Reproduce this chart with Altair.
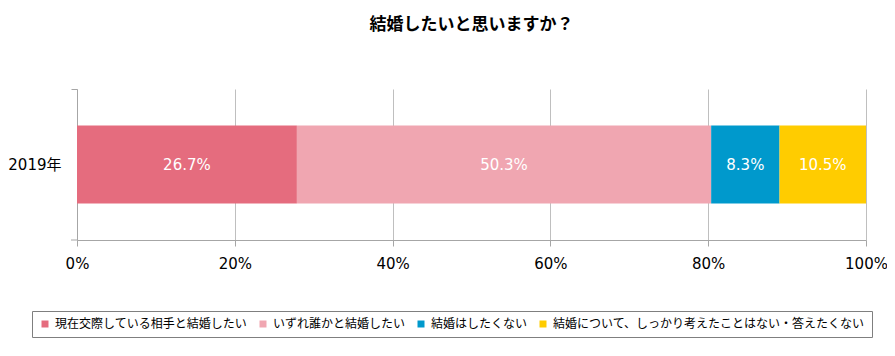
import altair as alt
import pandas as pd

categories = ["現在交際している相手と結婚したい", "いずれ誰かと結婚したい", "結婚はしたくない", "結婚について、しっかり考えたことはない・答えたくない"]
values = [26.7, 50.3, 8.3, 10.5]
colors = ["#E56C7E", "#F0A6B1", "#0099CC", "#FFCC00"]
year = "2019年"
ticks = [0, 0.2, 0.4, 0.6, 0.8, 1.0]

df = pd.DataFrame({
    "cat": categories,
    "value": values,
    "idx": list(range(len(categories))),
    "year": [year] * len(categories),
    "label": [f"{v:.1f}%" for v in values],
})

font_num = "DejaVu Sans"
font_jp = "Noto Sans CJK JP"
font_mix = "DejaVu Sans, Noto Sans CJK JP"

base = alt.Chart(df).transform_stack(
    stack="value", groupby=["year"], as_=["v0", "v1"], offset="normalize",
    sort=[alt.SortField("idx", order="ascending")]
).transform_calculate(mid="(datum.v0 + datum.v1) / 2")

y_enc = alt.Y("year:N", title=None,
              scale=alt.Scale(paddingInner=0, paddingOuter=0),
              axis=alt.Axis(labelFont=font_mix, labelFontSize=15, labelColor="#000000",
                            labelPadding=10, domainColor="#A6A6A6", tickColor="#A6A6A6",
                            tickSize=6, bandPosition=0, grid=False))

bars = base.mark_bar(size=78).encode(
    x=alt.X("v0:Q", title=None, scale=alt.Scale(domain=[0, 1], nice=False),
            axis=alt.Axis(values=ticks, format=".0%", labelFont=font_num, labelFontSize=15,
                          labelColor="#000000", labelPadding=10, domainColor="#A6A6A6",
                          tickColor="#A6A6A6", tickSize=6, gridColor="#BFBFBF",
                          labelFlush=False)),
    x2="v1:Q",
    y=y_enc,
    color=alt.Color("cat:N", title=None,
                    scale=alt.Scale(domain=categories, range=colors),
                    legend=alt.Legend(orient="none", legendX=-45, legendY=222,
                                      direction="horizontal", columns=4,
                                      symbolType="square", symbolSize=49,
                                      symbolStrokeWidth=0,
                                      labelFont=font_jp, labelFontSize=12,
                                      labelColor="#000000", labelLimit=400,
                                      columnPadding=9, padding=7,
                                      strokeColor="#7F7F7F", labelOffset=4)),
    order=alt.Order("idx:Q"),
)

text = base.mark_text(color="white", font=font_num, fontSize=15).encode(
    x=alt.X("mid:Q"),
    y=alt.Y("year:N"),
    text="label:N",
)

corner = alt.Chart(df.head(1)).mark_rule(color="#A6A6A6").encode(
    x=alt.value(-6), x2=alt.value(0), y=alt.value(151)
)

chart = alt.layer(bars, text, corner).properties(
    width=789, height=151,
    title=alt.TitleParams("結婚したいと思いますか？", font=font_jp, fontSize=17,
                          fontWeight="bold", color="#000000", offset=55, anchor="middle"),
    autosize=alt.AutoSizeParams(type="none"),
    padding={"left": 69, "top": 81, "right": 21, "bottom": 108},
).configure_view(stroke=None).configure_axis(gridWidth=1)

chart.save("out.html", embed_options={"renderer": "svg", "actions": False})
